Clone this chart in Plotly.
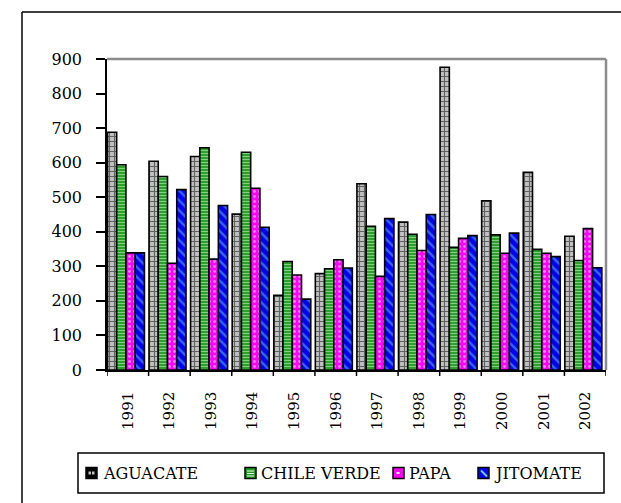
import plotly.graph_objects as go

years = ["1991", "1992", "1993", "1994", "1995", "1996", "1997", "1998", "1999", "2000", "2001", "2002"]
aguacate = [688, 604, 618, 451, 216, 279, 539, 428, 876, 490, 572, 387]
chile_verde = [594, 560, 643, 630, 314, 293, 416, 393, 355, 391, 349, 317]
papa = [339, 309, 321, 526, 275, 319, 271, 346, 381, 338, 338, 409]
jitomate = [339, 522, 476, 413, 205, 295, 438, 450, 389, 396, 328, 296]
y_ticks = [0, 100, 200, 300, 400, 500, 600, 700, 800, 900]
series_names = ["AGUACATE", "CHILE VERDE", "PAPA", "JITOMATE"]

patterns = [
    dict(shape="+", fgcolor="#000000", bgcolor="#c0c0c0", size=5, solidity=0.4),
    dict(shape="-", fgcolor="#e8ffe8", bgcolor="#1e9e1e", size=3, solidity=0.4),
    dict(shape=".", fgcolor="#ffffff", bgcolor="#ff00ff", size=5, solidity=0.25),
    dict(shape="\\", fgcolor="#66ccff", bgcolor="#0000ee", size=7, solidity=0.35),
]
values = [aguacate, chile_verde, papa, jitomate]

SERIF = "DejaVu Serif"

w = 0.2225
start = -0.49
fig = go.Figure()
for i, (name, vals, pat) in enumerate(zip(series_names, values, patterns)):
    fig.add_trace(go.Bar(
        name=name, x=list(range(len(years))), y=vals,
        width=w, offset=start + i * w, showlegend=False,
        marker=dict(color=pat["bgcolor"], pattern=pat, line=dict(color="#000000", width=1.6)),
    ))

L, R, T, B = 107, 15, 59, 133
W, H = 621, 503
pw, ph = W - L - R, H - T - B

def px(x):
    return (x - L) / pw

def py(y):
    return (H - B - y) / ph

fig.update_layout(
    width=W, height=H,
    margin=dict(l=L, r=R, t=T, b=B, pad=0, autoexpand=False),
    paper_bgcolor="white", plot_bgcolor="white",
    barmode="overlay",
    font=dict(family=SERIF, color="black", size=15),
    showlegend=False,
    xaxis=dict(
        range=[-0.5, len(years) - 0.5], automargin=False,
        tickvals=list(range(len(years))), ticktext=years, tickangle=-90,
        showline=True, linecolor="black", linewidth=1.5,
        ticks="", showgrid=False, zeroline=False, ticklabelstandoff=14,
        tickfont=dict(size=15, family=SERIF, color="black"),
    ),
    yaxis=dict(
        range=[0, 900], tickvals=y_ticks, automargin=False,
        showline=True, linecolor="black", linewidth=1.5,
        ticks="outside", ticklen=9, tickwidth=1.5, tickcolor="black",
        showgrid=False, zeroline=False, ticklabelstandoff=11,
        tickfont=dict(size=16, family=SERIF, color="black"),
    ),
)

shapes = []
for k in range(len(years) + 1):
    shapes.append(dict(type="line", xref="x", yref="paper", x0=k - 0.5, x1=k - 0.5,
                       y0=0, y1=py(H - B + 6), line=dict(color="black", width=1.5)))
shapes.append(dict(type="line", xref="paper", yref="paper", x0=0, x1=1, y0=1, y1=1,
                   line=dict(color="#8c8c8c", width=2.5)))
shapes.append(dict(type="line", xref="paper", yref="paper", x0=1, x1=1, y0=0, y1=1,
                   line=dict(color="#8c8c8c", width=2.5)))
# outer chart frame
shapes.append(dict(type="line", xref="paper", yref="paper", x0=px(22), x1=px(640), y0=py(12), y1=py(12),
                   line=dict(color="black", width=1.5)))
shapes.append(dict(type="line", xref="paper", yref="paper", x0=px(22), x1=px(22), y0=py(12), y1=py(520),
                   line=dict(color="black", width=1.5)))
# legend box
shapes.append(dict(type="rect", xref="paper", yref="paper", x0=px(78), x1=px(604), y0=py(453), y1=py(493),
                   line=dict(color="black", width=1.5), fillcolor="white"))

# legend entries: swatch left edge and text start (pixels)
sw_left = [86, 245, 393, 478]
txt_left = [101, 259, 407, 492]
sw = 11
ly = 473
for i, name in enumerate(series_names):
    x0, x1 = sw_left[i], sw_left[i] + sw
    y0, y1 = ly - sw / 2, ly + sw / 2
    pat = patterns[i]
    fill = "#000000" if i == 0 else pat["bgcolor"]
    shapes.append(dict(type="rect", xref="paper", yref="paper", x0=px(x0), x1=px(x1), y0=py(y1), y1=py(y0),
                       line=dict(color="black", width=1.5), fillcolor=fill))
    if i == 0:
        for dx in (2.5, 6):
            shapes.append(dict(type="rect", xref="paper", yref="paper", x0=px(x0 + dx), x1=px(x0 + dx + 2.5),
                               y0=py(ly + 1.5), y1=py(ly - 1.5), line=dict(width=0), fillcolor="#c0c0c0"))
    elif i == 1:
        for dy in (-2, 0.5, 3):
            shapes.append(dict(type="line", xref="paper", yref="paper", x0=px(x0 + 2), x1=px(x1 - 2),
                               y0=py(ly + dy), y1=py(ly + dy), line=dict(color="#e8ffe8", width=1)))
    elif i == 2:
        shapes.append(dict(type="rect", xref="paper", yref="paper", x0=px(x0 + 3.5), x1=px(x0 + 6.5),
                           y0=py(ly + 1), y1=py(ly - 1), line=dict(width=0), fillcolor="#ffffff"))
    else:
        shapes.append(dict(type="line", xref="paper", yref="paper", x0=px(x0 + 3), x1=px(x1 - 2),
                           y0=py(y0 + 3), y1=py(y1 - 2), line=dict(color="#66ccff", width=2)))
    fig.add_annotation(xref="paper", yref="paper", x=px(txt_left[i]), y=py(ly), text=name,
                       showarrow=False, xanchor="left", yanchor="middle",
                       font=dict(family=SERIF, size=16, color="black"))

fig.update_layout(shapes=shapes)

fig.write_html("out.html", post_script="document.body.style.margin='0px';",
               config={"displayModeBar": False})
